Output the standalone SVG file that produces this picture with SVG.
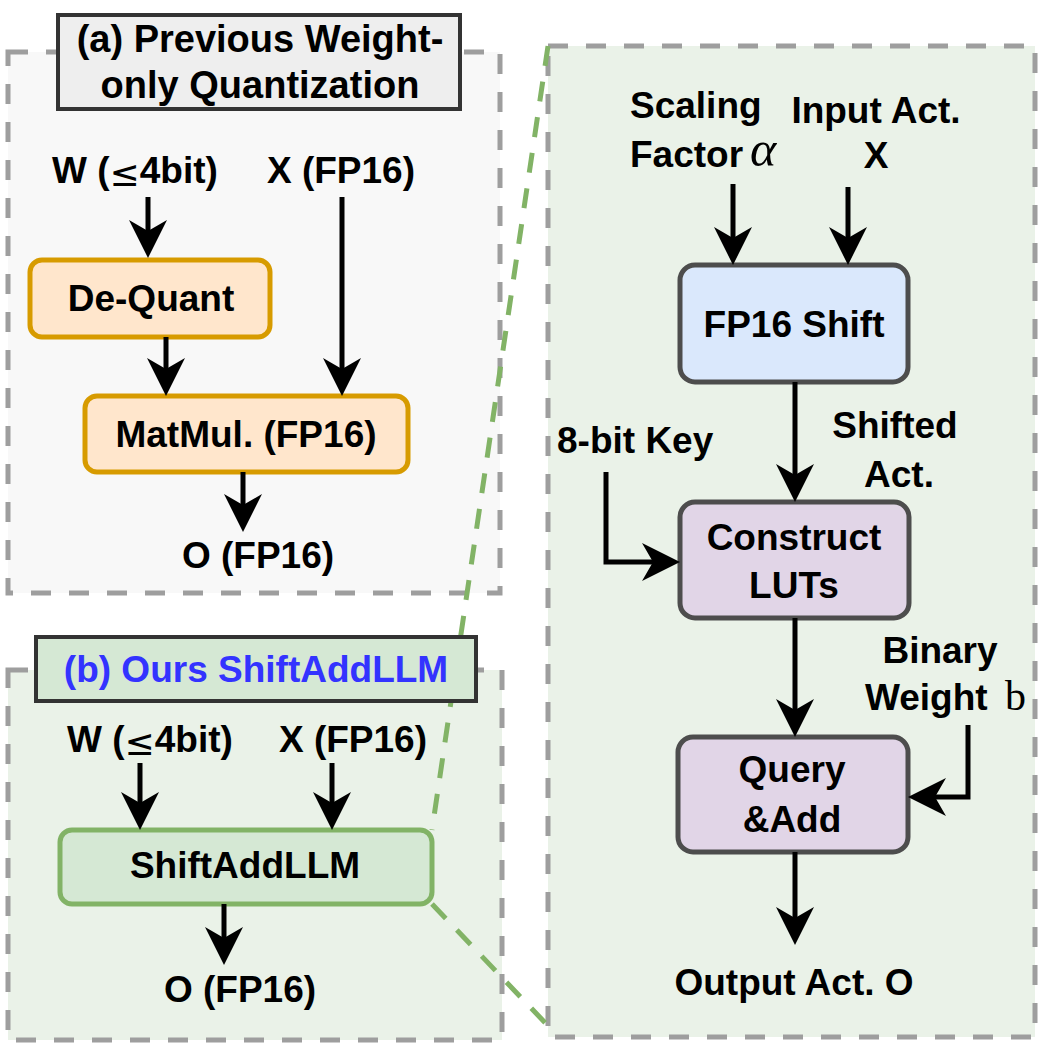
<svg xmlns="http://www.w3.org/2000/svg" width="1051" height="1048" viewBox="0 0 1051 1048">
<style>
text{font-family:"Liberation Sans",Arial,sans-serif;font-weight:bold;font-size:37px;fill:#000}
.mid{text-anchor:middle}
.panel{stroke:#9e9e9e;stroke-width:5;stroke-dasharray:20 18}
.zoom{fill:none;stroke:#82b366;stroke-width:5;stroke-dasharray:20 16}
.title{stroke:#333;stroke-width:4}
.node{stroke-width:5}
.orange{fill:#ffe6cc;stroke:#d79b00}
.gray{stroke:#4d4d4d}
.arr{fill:none;stroke:#000;stroke-width:5;marker-end:url(#ah)}
.le{font-family:"DejaVu Sans",sans-serif;font-weight:normal;font-size:36px}
.math{font-family:"Liberation Serif",serif;font-weight:normal}
</style>
<defs>
<marker id="ah" viewBox="-40 -20 40 40" markerWidth="40" markerHeight="40" refX="-20" refY="0" orient="auto" markerUnits="userSpaceOnUse" overflow="visible">
<path d="M0,0 L-38,-19 L-27,0 L-38,19 Z" fill="#000"/>
</marker>
</defs>
<rect width="1051" height="1048" fill="#fff"/>
<g id="panels">
<rect id="panel-a" class="panel" x="8" y="52" width="492" height="541" fill="#f8f8f8"/>
<rect id="panel-b" class="panel" x="8" y="670" width="494" height="370" fill="#eaf2e8"/>
<rect id="panel-detail" class="panel" x="548" y="46" width="487" height="991" fill="#eaf2e8"/>
</g>
<g id="zoom-lines">
<path class="zoom" d="M548,46 L432,830"/>
<path class="zoom" d="M432,904 L552,1030"/>
</g>
<g id="title-a">
<rect class="title" x="58" y="15" width="402" height="94" fill="#eeeeee"/>
<text class="mid" x="260" y="52" style="font-size:38px">(a) Previous Weight-</text>
<text class="mid" x="260" y="98" style="font-size:38px">only Quantization</text>
</g>
<g id="title-b">
<rect class="title" x="36" y="637" width="440" height="64" fill="#d5e8d4"/>
<text class="mid" x="256" y="682" style="fill:#3333ff">(b) Ours ShiftAddLLM</text>
</g>
<g id="labels-a">
<text x="52" y="183">W (<tspan class="le" dy="3">≤</tspan><tspan dy="-3">4bit)</tspan></text>
<text class="mid" x="341" y="183">X (FP16)</text>
<text class="mid" x="258" y="568">O (FP16)</text>
</g>
<g id="dequant">
<rect class="node orange" x="30" y="260" width="240" height="77" rx="12"/>
<text class="mid" x="151" y="311">De-Quant</text>
</g>
<g id="matmul">
<rect class="node orange" x="85" y="396" width="323" height="76" rx="12"/>
<text class="mid" x="246" y="447">MatMul. (FP16)</text>
</g>
<g id="labels-b">
<text x="67" y="752">W (<tspan class="le" dy="3">≤</tspan><tspan dy="-3">4bit)</tspan></text>
<text class="mid" x="353" y="752">X (FP16)</text>
<text class="mid" x="240" y="1002">O (FP16)</text>
</g>
<g id="shiftaddllm">
<rect class="node" x="60" y="830" width="372" height="74" rx="12" fill="#d5e8d4" stroke="#82b366"/>
<text class="mid" x="245" y="878">ShiftAddLLM</text>
</g>
<g id="labels-detail">
<text x="630" y="118">Scaling</text>
<text x="630" y="167">Factor</text>
<text x="750" y="166" class="math" style="font-style:italic;font-size:50px">α</text>
<text class="mid" x="876" y="123">Input Act.</text>
<text class="mid" x="876" y="168">X</text>
<text class="mid" x="895" y="438">Shifted</text>
<text class="mid" x="899" y="487">Act.</text>
<text x="557" y="453">8-bit Key</text>
<text class="mid" x="940" y="663">Binary</text>
<text x="865" y="710">Weight</text>
<text x="1005" y="710" class="math" style="font-size:42px">b</text>
<text class="mid" x="794" y="995">Output Act. O</text>
</g>
<g id="fp16shift">
<rect class="node gray" x="680" y="265" width="228" height="117" rx="15" fill="#dae8fc"/>
<text class="mid" x="794" y="337">FP16 Shift</text>
</g>
<g id="construct">
<rect class="node gray" x="680" y="502" width="229" height="116" rx="15" fill="#e1d5e7"/>
<text class="mid" x="794" y="550">Construct</text>
<text class="mid" x="794" y="598">LUTs</text>
</g>
<g id="query">
<rect class="node gray" x="678" y="737" width="230" height="115" rx="15" fill="#e1d5e7"/>
<text class="mid" x="792" y="782">Query</text>
<text class="mid" x="792" y="832">&amp;Add</text>
</g>
<g id="connectors">
<path class="arr" d="M148,197 V238"/>
<path class="arr" d="M166,337 V376"/>
<path class="arr" d="M342,197 V376"/>
<path class="arr" d="M243,472 V512"/>
<path class="arr" d="M140,763 V810"/>
<path class="arr" d="M332,763 V810"/>
<path class="arr" d="M224,904 V945"/>
<path class="arr" d="M733,184 V245"/>
<path class="arr" d="M848,187 V245"/>
<path class="arr" d="M795,382 V482"/>
<path class="arr" d="M795,618 V717"/>
<path class="arr" d="M795,852 V925"/>
<path class="arr" d="M606,472 V562 H660"/>
<path class="arr" d="M968,725 V797 H928"/>
</g>
</svg>
